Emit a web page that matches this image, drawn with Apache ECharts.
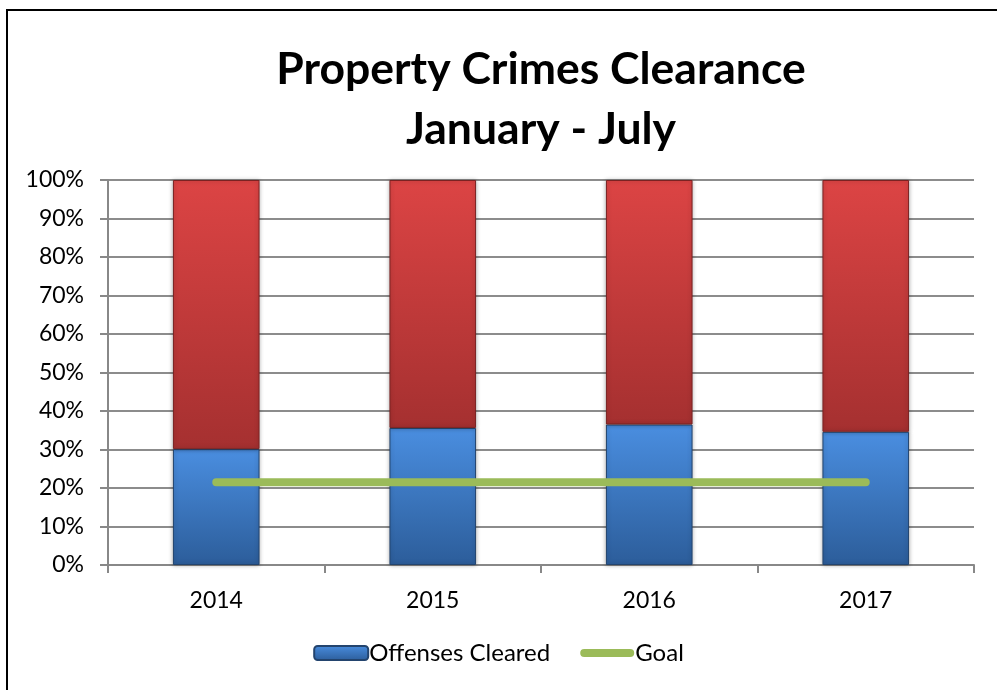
<!DOCTYPE html>
<html>
<head>
<meta charset="utf-8">
<script src="https://cdn.jsdelivr.net/npm/echarts@6/dist/echarts.min.js"></script>
<style>
  html, body { margin: 0; padding: 0; background: #fff; }
  #main { width: 997px; height: 690px; }
</style>
</head>
<body>
<div id="main"></div>
<script>
// data
var years = ['2014', '2015', '2016', '2017'];
var cleared = [30.1, 35.6, 36.5, 34.6];
var notCleared = [69.9, 64.4, 63.5, 65.4];
var goal = [21.5, 21.5, 21.5, 21.5];

var font = 'Lato, "Open Sans", sans-serif';

var blueFill = new echarts.graphic.LinearGradient(0, 0, 0, 1, [
    { offset: 0, color: '#4a8ee0' },
    { offset: 1, color: '#2c5d9a' }
]);
var redFill = new echarts.graphic.LinearGradient(0, 0, 0, 1, [
    { offset: 0, color: '#dc4444' },
    { offset: 1, color: '#a53030' }
]);
// thick rounded bar for the goal legend icon
var goalIcon = 'path://M4,0 H50 A4,4 0 0 1 50,8 H4 A4,4 0 0 1 4,0 Z';

var chart = echarts.init(document.getElementById('main'));
var option = {
    backgroundColor: '#fff',
    animation: false,
    title: {
        text: 'Property Crimes Clearance\nJanuary - July',
        left: 536,
        textAlign: 'center',
        top: 35,
        textStyle: {
            fontFamily: font,
            fontWeight: 'bold',
            fontSize: 44.5,
            lineHeight: 60,
            color: '#000'
        }
    },
    graphic: [{
        type: 'rect',
        shape: { x: 7, y: 10, width: 1000, height: 700 },
        style: { fill: 'none', stroke: '#000', lineWidth: 2 },
        silent: true
    }],
    legend: {
        bottom: 20,
        left: 'center',
        itemGap: 30,
        itemWidth: 54,
        itemHeight: 14,
        textStyle: { fontFamily: font, fontSize: 24, color: '#000', padding: [0, 0, 0, -4] },
        data: [
            { name: 'Offenses Cleared' },
            { name: 'Goal', icon: goalIcon }
        ]
    },
    grid: { left: 108, right: 23, top: 180, bottom: 125 },
    xAxis: {
        type: 'category',
        data: years,
        axisLine: { lineStyle: { color: '#888', width: 2 } },
        axisTick: { show: true, length: 8, lineStyle: { color: '#888', width: 2 } },
        axisLabel: { fontFamily: font, fontSize: 23, color: '#000', margin: 24 }
    },
    yAxis: {
        type: 'value',
        min: 0,
        max: 100,
        interval: 10,
        axisLine: { show: true, lineStyle: { color: '#888', width: 2 } },
        axisTick: { show: true, length: 8, lineStyle: { color: '#888', width: 2 } },
        splitLine: { lineStyle: { color: '#8c8c8c', width: 2 } },
        axisLabel: { fontFamily: font, fontSize: 23, color: '#000', margin: 24, formatter: '{value}%' }
    },
    series: [{
        name: 'Offenses Cleared',
        type: 'bar',
        stack: 'total',
        barWidth: '40%',
        data: cleared,
        itemStyle: {
            color: blueFill,
            borderColor: '#23446e',
            borderWidth: 1,
            shadowBlur: 4,
            shadowColor: 'rgba(0,0,0,0.3)'
        }
    }, {
        name: 'Not Cleared',
        type: 'bar',
        stack: 'total',
        barWidth: '40%',
        data: notCleared,
        itemStyle: {
            color: redFill,
            borderColor: '#7a2222',
            borderWidth: 1,
            shadowBlur: 4,
            shadowColor: 'rgba(0,0,0,0.3)'
        }
    }, {
        name: 'Goal',
        type: 'line',
        data: goal,
        symbol: 'none',
        z: 5,
        lineStyle: { color: '#9bbb59', width: 8, cap: 'round' },
        itemStyle: { color: '#9bbb59' }
    }]
};
chart.setOption(option);
</script>
</body>
</html>
